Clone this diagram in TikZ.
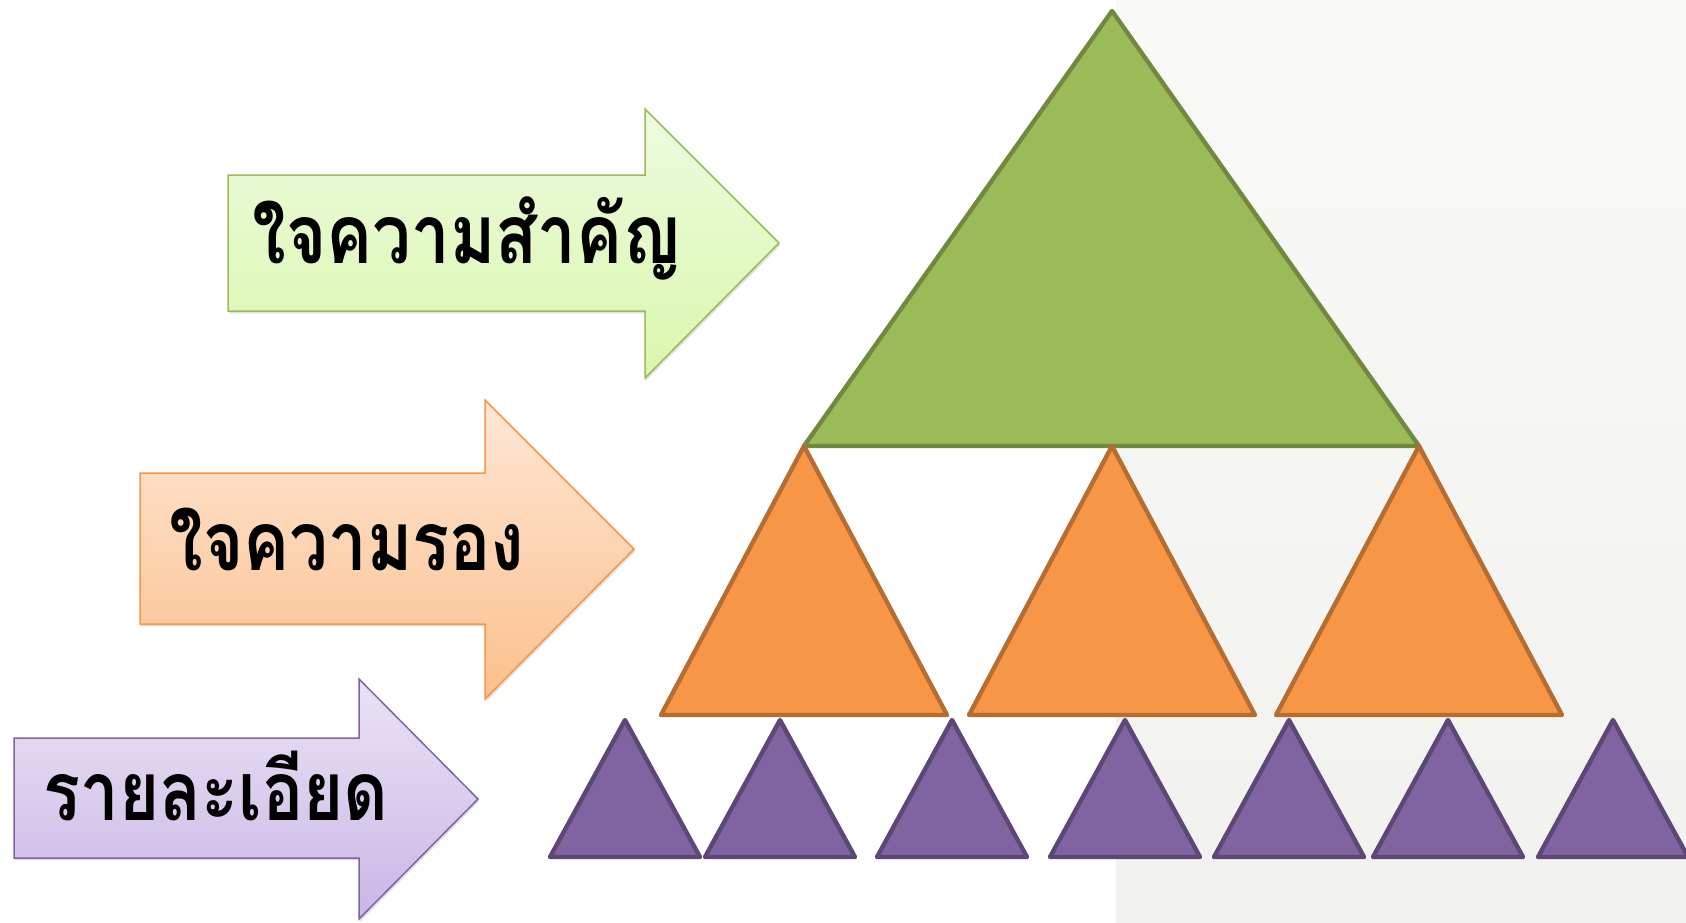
\documentclass[tikz,border=0pt]{standalone}
\usepackage{fontspec}
\newfontfamily\thaifont[Script=Thai,FakeStretch=0.84]{Loma}
\usetikzlibrary{shadows}

\definecolor{leafgreen}{HTML}{9BBB59}
\definecolor{leafgreenline}{HTML}{71893F}
\definecolor{tangerine}{HTML}{F79646}
\definecolor{tangerineline}{HTML}{B66D31}
\definecolor{grape}{HTML}{8064A2}
\definecolor{grapeline}{HTML}{5C4776}
\definecolor{panelgrey}{HTML}{F1F2EE}
\definecolor{greentop}{HTML}{EEFBDF}
\definecolor{greenbottom}{HTML}{D9F7AD}
\definecolor{orangetop}{HTML}{FEE7D6}
\definecolor{orangebottom}{HTML}{FBC08C}
\definecolor{purpletop}{HTML}{EAE3F5}
\definecolor{purplebottom}{HTML}{CAB6E6}

\begin{document}
\begin{tikzpicture}[x=0.5pt,y=-0.5pt,
    bigtri/.style={fill=leafgreen,draw=leafgreenline,line width=2.2pt,line join=round},
    midtri/.style={fill=tangerine,draw=tangerineline,line width=2.2pt,line join=round},
    smalltri/.style={fill=grape,draw=grapeline,line width=2.2pt,line join=round},
    arrowbox/.style={line width=0.75pt,line join=miter,
        drop shadow={opacity=0.25,shadow xshift=0.6pt,shadow yshift=-1.2pt}},
    thaitext/.style={font=\thaifont\bfseries\fontsize{41}{46}\selectfont,anchor=base,inner sep=0pt}]

    \useasboundingbox (0,0) rectangle (1686,922);

    % backdrop panel
    \fill[top color=panelgrey!40,bottom color=panelgrey] (1116,0) rectangle (1686,922);

    % arrows
    \draw[arrowbox,draw=leafgreen,top color=greentop,bottom color=greenbottom]
        (228,175) -- (645,175) -- (645,109) -- (779,243) -- (645,378) -- (645,311) -- (228,311) -- cycle;
    \draw[arrowbox,draw=tangerine,top color=orangetop,bottom color=orangebottom]
        (140,473) -- (485,473) -- (485,400) -- (634,549) -- (485,699) -- (485,624) -- (140,624) -- cycle;
    \draw[arrowbox,draw=grape,top color=purpletop,bottom color=purplebottom]
        (14,738) -- (359,738) -- (359,679) -- (478,799) -- (359,919) -- (359,858) -- (14,858) -- cycle;

    \node[thaitext] (mainidea) at (467,263) {ใจความสำคัญ};
    \node[thaitext] (subidea) at (347,570) {ใจความรอง};
    \node[thaitext] (detail) at (216,820) {รายละเอียด};

    % top triangle
    \draw[bigtri] (1112,11) -- (1419,446) -- (804,446) -- cycle;

    % middle row
    \foreach \x in {804,1112,1419} \draw[midtri] (\x,446) -- (\x+143,715) -- (\x-143,715) -- cycle;

    % bottom row
    \foreach \x in {625,780,952,1125,1289,1448,1613} \draw[smalltri] (\x,720) -- (\x+75,857) -- (\x-75,857) -- cycle;

\end{tikzpicture}
\end{document}
